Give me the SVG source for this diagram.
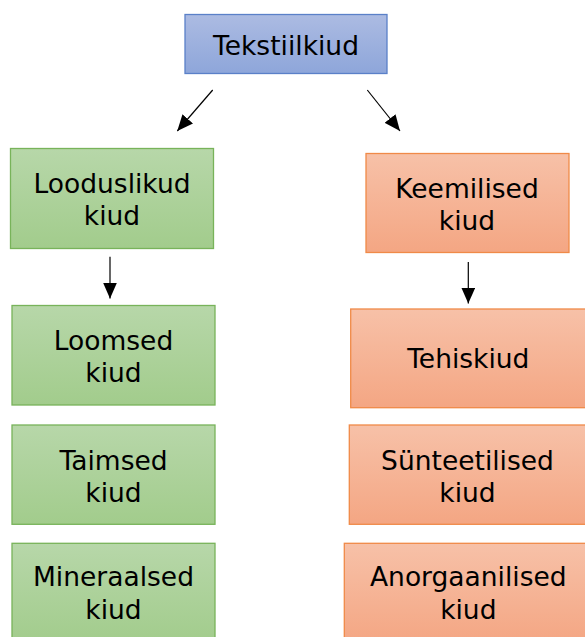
<svg xmlns="http://www.w3.org/2000/svg" width="585" height="637" viewBox="0 0 585 637">
<style>
text{font-family:"DejaVu Sans","Verdana",sans-serif;font-size:26.5px;fill:#000;text-anchor:middle}
.g{fill:url(#gg);stroke:#78b35a;stroke-width:1.3}
.o{fill:url(#go);stroke:#f08a48;stroke-width:1.3}
.b{fill:url(#gb);stroke:#5a80c8;stroke-width:1.3}
.c{stroke:#000;stroke-width:1.2;fill:none;marker-end:url(#ah)}
</style>
<defs>
<linearGradient id="gg" x1="0" y1="0" x2="0" y2="1"><stop offset="0" stop-color="#b7d7a9"/><stop offset="1" stop-color="#a2cc8c"/></linearGradient>
<linearGradient id="go" x1="0" y1="0" x2="0" y2="1"><stop offset="0" stop-color="#f7c1a8"/><stop offset="1" stop-color="#f4a683"/></linearGradient>
<linearGradient id="gb" x1="0" y1="0" x2="0" y2="1"><stop offset="0" stop-color="#acbbe2"/><stop offset="1" stop-color="#8ea6da"/></linearGradient>
<marker id="ah" viewBox="0 0 16 14" refX="16" refY="7" markerWidth="16" markerHeight="14" markerUnits="userSpaceOnUse" orient="auto"><path d="M0,0 L16,7 L0,14 z" fill="#000"/></marker>
</defs>
<g id="connectors">
<line class="c" x1="212.7" y1="90" x2="177.3" y2="131"/>
<line class="c" x1="367.3" y1="90" x2="400" y2="131"/>
<line class="c" x1="110" y1="256.7" x2="110" y2="298.5"/>
<line class="c" x1="468.3" y1="262" x2="468.3" y2="303.5"/>
</g>
<g id="n-tekstiilkiud"><rect class="b" x="185" y="14.5" width="202" height="59"/><text x="286" y="55">Tekstiilkiud</text></g>
<g id="n-looduslikud"><rect class="g" x="10.5" y="148.5" width="203" height="100"/><text x="112" y="193.3">Looduslikud</text><text x="112" y="225">kiud</text></g>
<g id="n-keemilised"><rect class="o" x="366" y="153.5" width="203" height="99"/><text x="467" y="198.3">Keemilised</text><text x="467" y="230">kiud</text></g>
<g id="n-loomsed"><rect class="g" x="12" y="305.5" width="203" height="99.5"/><text x="113.5" y="350">Loomsed</text><text x="113.5" y="382.3">kiud</text></g>
<g id="n-taimsed"><rect class="g" x="12" y="425" width="203" height="99.3"/><text x="113.5" y="469.5">Taimsed</text><text x="113.5" y="501.5">kiud</text></g>
<g id="n-mineraalsed"><rect class="g" x="12" y="543.3" width="203" height="100"/><text x="113.5" y="586">Mineraalsed</text><text x="113.5" y="618.5">kiud</text></g>
<g id="n-tehiskiud"><rect class="o" x="350.7" y="309" width="236" height="98.7"/><text x="468.3" y="368.3">Tehiskiud</text></g>
<g id="n-synteetilised"><rect class="o" x="349.3" y="425" width="237" height="99.3"/><text x="467.5" y="469.5">Sünteetilised</text><text x="467.5" y="501.5">kiud</text></g>
<g id="n-anorgaanilised"><rect class="o" x="344.3" y="543.3" width="248" height="100"/><text x="468.3" y="586">Anorgaanilised</text><text x="468.3" y="618.5">kiud</text></g>
</svg>
